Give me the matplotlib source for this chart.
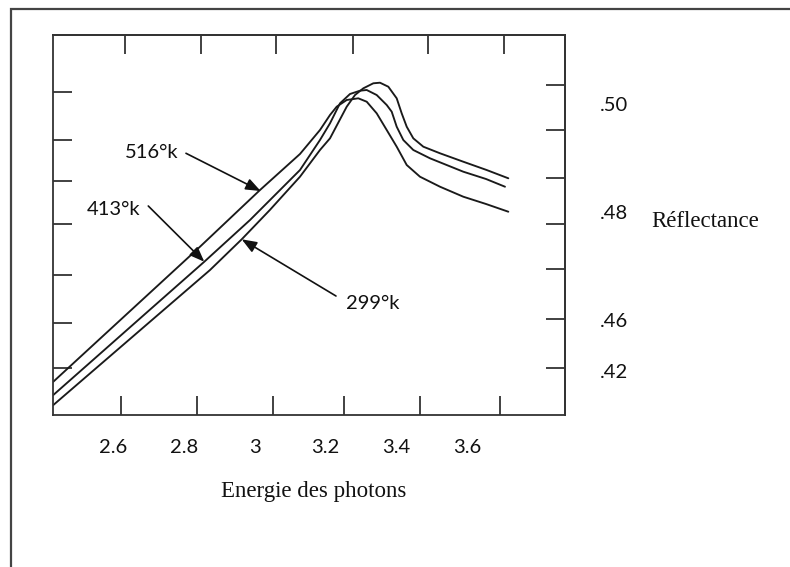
import matplotlib
matplotlib.use("Agg")
import matplotlib.pyplot as plt
from matplotlib.lines import Line2D
import matplotlib.transforms as mtransforms

# ---- data ----
x_516 = [2.4314, 2.5633, 2.7045, 2.8458, 3.0153, 3.1282, 3.1847, 3.2130, 3.2319, 3.2602, 3.2929,
         3.3167, 3.3449, 3.3732, 3.4014, 3.4297, 3.4672, 3.5237, 3.5895, 3.6537, 3.7167]
y_516 = [0.44876, 0.45672, 0.46524, 0.47376, 0.48426, 0.49093, 0.49537, 0.49815, 0.49969, 0.50093, 0.50124,
         0.50061, 0.49846, 0.49537, 0.49228, 0.48889, 0.48672, 0.48487, 0.48302, 0.48167, 0.48024]

x_413 = [2.4314, 2.5633, 2.7045, 2.8579, 2.9870, 3.1282, 3.1847, 3.2130, 3.2412, 3.2695, 3.2977,
         3.3167, 3.3449, 3.3732, 3.3873, 3.4014, 3.4201, 3.4483, 3.4955, 3.5895, 3.6537, 3.7073]
y_413 = [0.44630, 0.45393, 0.46211, 0.47098, 0.47870, 0.48796, 0.49352, 0.49661, 0.50031, 0.50204, 0.50265,
         0.50278, 0.50185, 0.50000, 0.49876, 0.49598, 0.49352, 0.49167, 0.49013, 0.48765, 0.48630, 0.48487]

x_299 = [2.4314, 2.5633, 2.7045, 2.8740, 2.9636, 3.0431, 3.1282, 3.1847, 3.2130, 3.2602, 3.2836, 3.3071,
         3.3353, 3.3542, 3.3777, 3.4014, 3.4155, 3.4297, 3.4483, 3.4766, 3.5237, 3.5895, 3.6556, 3.7167]
y_299 = [0.44444, 0.45189, 0.45987, 0.46944, 0.47513, 0.48056, 0.48672, 0.49167, 0.49383, 0.49969, 0.50185, 0.50309,
         0.50402, 0.50413, 0.50339, 0.50124, 0.49846, 0.49598, 0.49383, 0.49228, 0.49106, 0.48950, 0.48796, 0.48643]

x_tick_labels = ["2.6", "2.8", "3", "3.2", "3.4", "3.6"]
x_tick_values = [2.6, 2.8, 3.0, 3.2, 3.4, 3.6]
y_tick_labels = [".50", ".48", ".46", ".42"]
y_tick_values = [0.500, 0.480, 0.460, 0.4504]

# tick mark positions as drawn in the original sketch
bottom_ticks = [2.6237, 2.8373, 3.0517, 3.2525, 3.4661, 3.6932]
top_ticks = [2.6339, 2.8477, 3.0616, 3.2766, 3.4898, 3.7045]
left_ticks = [0.50241, 0.49352, 0.48598, 0.47791, 0.46846, 0.45957, 0.45124]
right_ticks = [0.50370, 0.49537, 0.48643, 0.47791, 0.46957, 0.46031, 0.45124]

curve_labels = ["516°k", "413°k", "299°k"]

# ---- figure ----
W, H = 790, 567
fig = plt.figure(figsize=(W / 100, H / 100), dpi=100)
fig.patch.set_facecolor("white")

def fx(px):
    return px / W

def fy(py):
    return 1 - py / H

ax_l, ax_r, ax_t, ax_b = 53.3, 565.0, 35.4, 414.5
ax = fig.add_axes([fx(ax_l), fy(ax_b), (ax_r - ax_l) / W, (ax_b - ax_t) / H])
ax.set_xlim(2.4314, 3.8768)
ax.set_ylim(0.44269, 0.51289)

line_col = "#1a1a1a"
frame_col = "#333333"
for xs, ys in [(x_516, y_516), (x_413, y_413), (x_299, y_299)]:
    ax.plot(xs, ys, color=line_col, lw=1.35, solid_capstyle="round", solid_joinstyle="round")

for sp in ax.spines.values():
    sp.set_color(frame_col)
    sp.set_linewidth(1.3)

tick_len = 13.5
ax.set_xticks(bottom_ticks)
ax.set_xticklabels([])
ax.set_yticks(left_ticks)
ax.set_yticklabels([])
ax.tick_params(axis="both", direction="in", length=tick_len, width=1.3, color=frame_col)

sec_top = ax.secondary_xaxis("top")
sec_top.set_xticks(top_ticks)
sec_top.set_xticklabels([])
sec_top.tick_params(direction="in", length=tick_len, width=1.3, color=frame_col)
sec_top.spines["top"].set_color(frame_col)
sec_top.spines["top"].set_linewidth(1.3)

sec_right = ax.secondary_yaxis("right")
sec_right.set_yticks(right_ticks)
sec_right.set_yticklabels([])
sec_right.tick_params(direction="in", length=tick_len, width=1.3, color=frame_col)
sec_right.spines["right"].set_color(frame_col)
sec_right.spines["right"].set_linewidth(1.3)

sans = ["Lato", "DejaVu Sans"]
serif = ["Liberation Serif", "DejaVu Serif"]
txt_col = "#111111"

# bottom labels
bx = mtransforms.blended_transform_factory(ax.transData, ax.transAxes)
for v, s in zip(x_tick_values, x_tick_labels):
    ax.text(v, -0.088, s, transform=bx, ha="center", va="center",
            fontsize=14.5, family=sans, color=txt_col, clip_on=False)

# right labels
ry = mtransforms.blended_transform_factory(ax.transAxes, ax.transData)
for v, s in zip(y_tick_values, y_tick_labels):
    ax.text(1.0684, v, s, transform=ry, ha="left", va="center",
            fontsize=14.5, family=sans, color=txt_col, clip_on=False)

ax.text(1.1694, 0.47839, "Réflectance", transform=ry, ha="left", va="center",
        fontsize=16.5, family=serif, color=txt_col, clip_on=False)
ax.text(3.168, -0.2018, "Energie des photons", transform=bx, ha="center", va="center",
        fontsize=16.5, family=serif, color=txt_col, clip_on=False)

# curve annotations
arrowprops = dict(arrowstyle="-|>,head_length=0.9,head_width=0.35", color="#111111",
                  lw=1.2, shrinkA=0, shrinkB=0)
ax.annotate("", xy=(3.0172, 0.48407), xytext=(2.8062, 0.49106), arrowprops=arrowprops)
ax.annotate("", xy=(2.8579, 0.47098), xytext=(2.6997, 0.48130), arrowprops=arrowprops)
ax.annotate("", xy=(2.9636, 0.47513), xytext=(3.2299, 0.46463), arrowprops=arrowprops)
ax.text(2.7102, 0.49117, curve_labels[0], ha="center", va="center", fontsize=14.5, family=sans, color=txt_col)
ax.text(2.6028, 0.48056, curve_labels[1], ha="center", va="center", fontsize=14.5, family=sans, color=txt_col)
ax.text(3.3345, 0.46328, curve_labels[2], ha="center", va="center", fontsize=14.5, family=sans, color=txt_col)

# outer frame (left and top edges)
fig.add_artist(Line2D([fx(11), fx(11), 1.0], [0.0, fy(9), fy(9)], color="#444444", lw=1.6,
                      solid_joinstyle="miter"))

fig.savefig("out.png", dpi=100, facecolor="white")
